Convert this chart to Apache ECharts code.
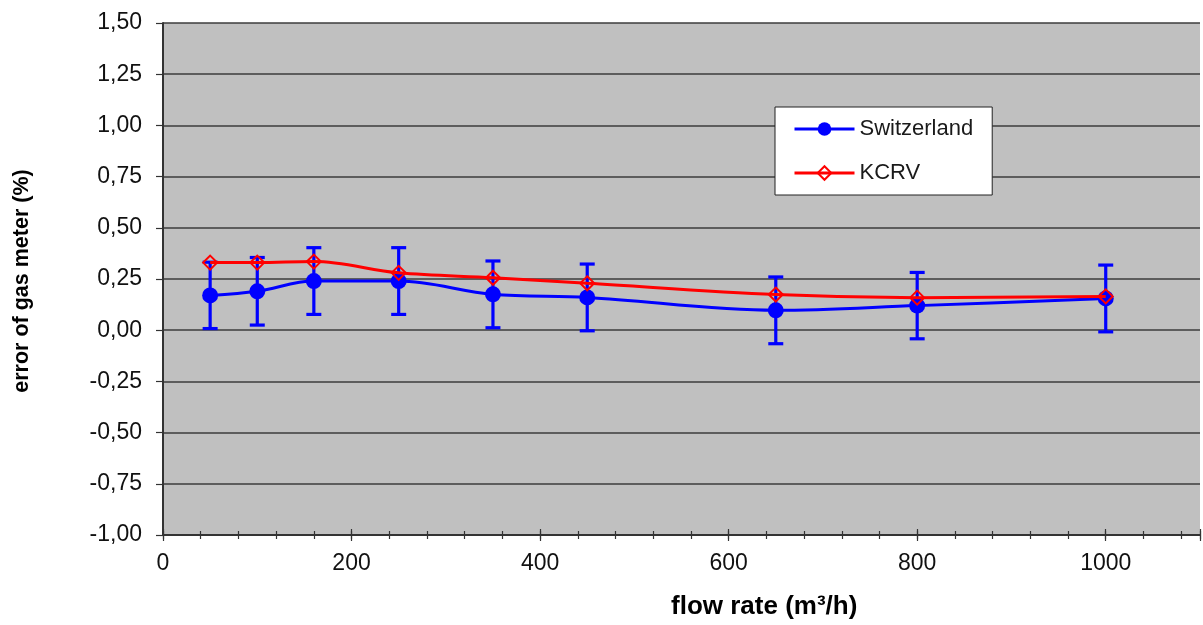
<!DOCTYPE html>
<html>
<head>
<meta charset="utf-8">
<script src="https://cdn.jsdelivr.net/npm/echarts@6/dist/echarts.min.js"></script>
<style>
  html, body { margin: 0; padding: 0; background: #fff; }
  #chart { width: 1203px; height: 625px; }
</style>
</head>
<body>
<div id="chart"></div>
<script>
// Flow rates (m³/h) at which the meter was calibrated
const flowRates = [50, 100, 160, 250, 350, 450, 650, 800, 1000];
// Meter error measured by Switzerland (%)
const swissError = [0.17, 0.19, 0.24, 0.24, 0.175, 0.16, 0.097, 0.12, 0.155];
// Expanded uncertainty of the Swiss result (%)
const swissUnc = [0.162, 0.165, 0.163, 0.163, 0.163, 0.163, 0.163, 0.162, 0.163];
// Key comparison reference value (%)
const kcrvError = [0.33, 0.33, 0.335, 0.28, 0.256, 0.229, 0.174, 0.159, 0.165];
// Axis ranges
const xMin = 0, xMax = 1100, xStep = 200, xMinorStep = 40;
const yMin = -1, yMax = 1.5, yStep = 0.25;

const FONT = '"Liberation Sans", Arial, sans-serif';
const BLUE = '#0000ff';
const RED = '#ff0000';
const AXIS = '#333333';

const swissPoints = flowRates.map((f, i) => [f, swissError[i]]);
const kcrvPoints = flowRates.map((f, i) => [f, kcrvError[i]]);
const errPoints = flowRates.map((f, i) => [f, swissError[i] - swissUnc[i], swissError[i] + swissUnc[i]]);

// one bottom axis per tick layer so ticks cross the axis line
function tickAxis(step, inside, len) {
  return {
    type: 'value', min: xMin, max: xMax, interval: step, position: 'bottom', offset: 0,
    axisLine: { show: false, onZero: false },
    axisTick: { show: true, inside: inside, length: len, lineStyle: { color: AXIS, width: 1.2 } },
    axisLabel: { show: false },
    splitLine: { show: false }
  };
}

const chart = echarts.init(document.getElementById('chart'), null, { renderer: 'canvas' });

chart.setOption({
  animation: false,
  backgroundColor: '#ffffff',
  grid: {
    left: 163, top: 23, right: -1, bottom: 90,
    show: true, backgroundColor: '#c0c0c0', borderWidth: 0
  },
  legend: {
    data: [
      { name: 'Switzerland' },
      { name: 'KCRV' }
    ],
    orient: 'vertical',
    left: 775, top: 107,
    padding: [11, 19, 11, 18],
    itemWidth: 60, itemHeight: 17, itemGap: 22,
    lineStyle: { width: 3 },
    backgroundColor: '#ffffff',
    borderColor: '#222222', borderWidth: 1, borderRadius: 0,
    textStyle: { fontFamily: FONT, fontSize: 22, color: '#1a1a1a', lineHeight: 20 },
    selectedMode: false
  },
  graphic: [
    {
      type: 'text', left: 671, top: 594,
      style: { text: 'flow rate (m³/h)', font: 'bold 26px ' + FONT, fill: '#000' }
    },
    {
      type: 'text', x: 22, y: 281, rotation: Math.PI / 2,
      style: {
        text: 'error of gas meter (%)', font: 'bold 21.5px ' + FONT, fill: '#000',
        align: 'center', verticalAlign: 'middle'
      },
      originX: 0, originY: 0
    }
  ],
  xAxis: [
    {
      type: 'value', min: xMin, max: xMax, interval: xStep, position: 'bottom',
      axisLine: { show: true, onZero: false, lineStyle: { color: AXIS, width: 2 } },
      axisTick: { show: true, inside: false, length: 6, lineStyle: { color: AXIS, width: 1.2 } },
      axisLabel: {
        margin: 17, fontFamily: FONT, fontSize: 23, color: '#111',
        formatter: v => (v % xStep === 0 && v <= 1000) ? String(v) : ''
      },
      splitLine: { show: false }
    },
    tickAxis(xStep, true, 6),
    tickAxis(xMinorStep, false, 4),
    tickAxis(xMinorStep, true, 4)
  ],
  yAxis: {
    type: 'value', min: yMin, max: yMax, interval: yStep,
    axisLine: { show: true, onZero: false, lineStyle: { color: AXIS, width: 2 } },
    axisTick: { show: true, inside: false, length: 7, lineStyle: { color: AXIS, width: 1.2 } },
    axisLabel: {
      margin: 21, fontFamily: FONT, fontSize: 23, color: '#111',
      formatter: v => v.toFixed(2).replace('.', ',')
    },
    splitLine: { show: true, lineStyle: { color: '#3c3c3c', width: 1.5 } }
  },
  series: [
    {
      name: 'Switzerland', type: 'line', data: swissPoints,
      smooth: 0.35,
      symbol: 'circle', symbolSize: 16,
      lineStyle: { color: BLUE, width: 3 },
      itemStyle: { color: BLUE },
      z: 3
    },
    {
      name: 'uncertainty', type: 'custom', data: errPoints,
      encode: { x: 0, y: [1, 2] },
      renderItem: function (params, api) {
        const x = api.value(0);
        const lo = api.coord([x, api.value(1)]);
        const hi = api.coord([x, api.value(2)]);
        const half = 7.5;
        const st = { stroke: BLUE, lineWidth: 3.2 };
        return {
          type: 'group',
          children: [
            { type: 'line', shape: { x1: lo[0], y1: lo[1], x2: hi[0], y2: hi[1] }, style: st },
            { type: 'line', shape: { x1: lo[0] - half, y1: lo[1], x2: lo[0] + half, y2: lo[1] }, style: st },
            { type: 'line', shape: { x1: hi[0] - half, y1: hi[1], x2: hi[0] + half, y2: hi[1] }, style: st }
          ]
        };
      },
      z: 4
    },
    {
      name: 'KCRV', type: 'line', data: kcrvPoints,
      smooth: 0.35,
      symbol: 'diamond', symbolSize: 14,
      lineStyle: { color: RED, width: 3 },
      itemStyle: { color: 'rgba(0,0,0,0)', borderColor: RED, borderWidth: 2 },
      z: 5
    }
  ]
});
</script>
</body>
</html>
